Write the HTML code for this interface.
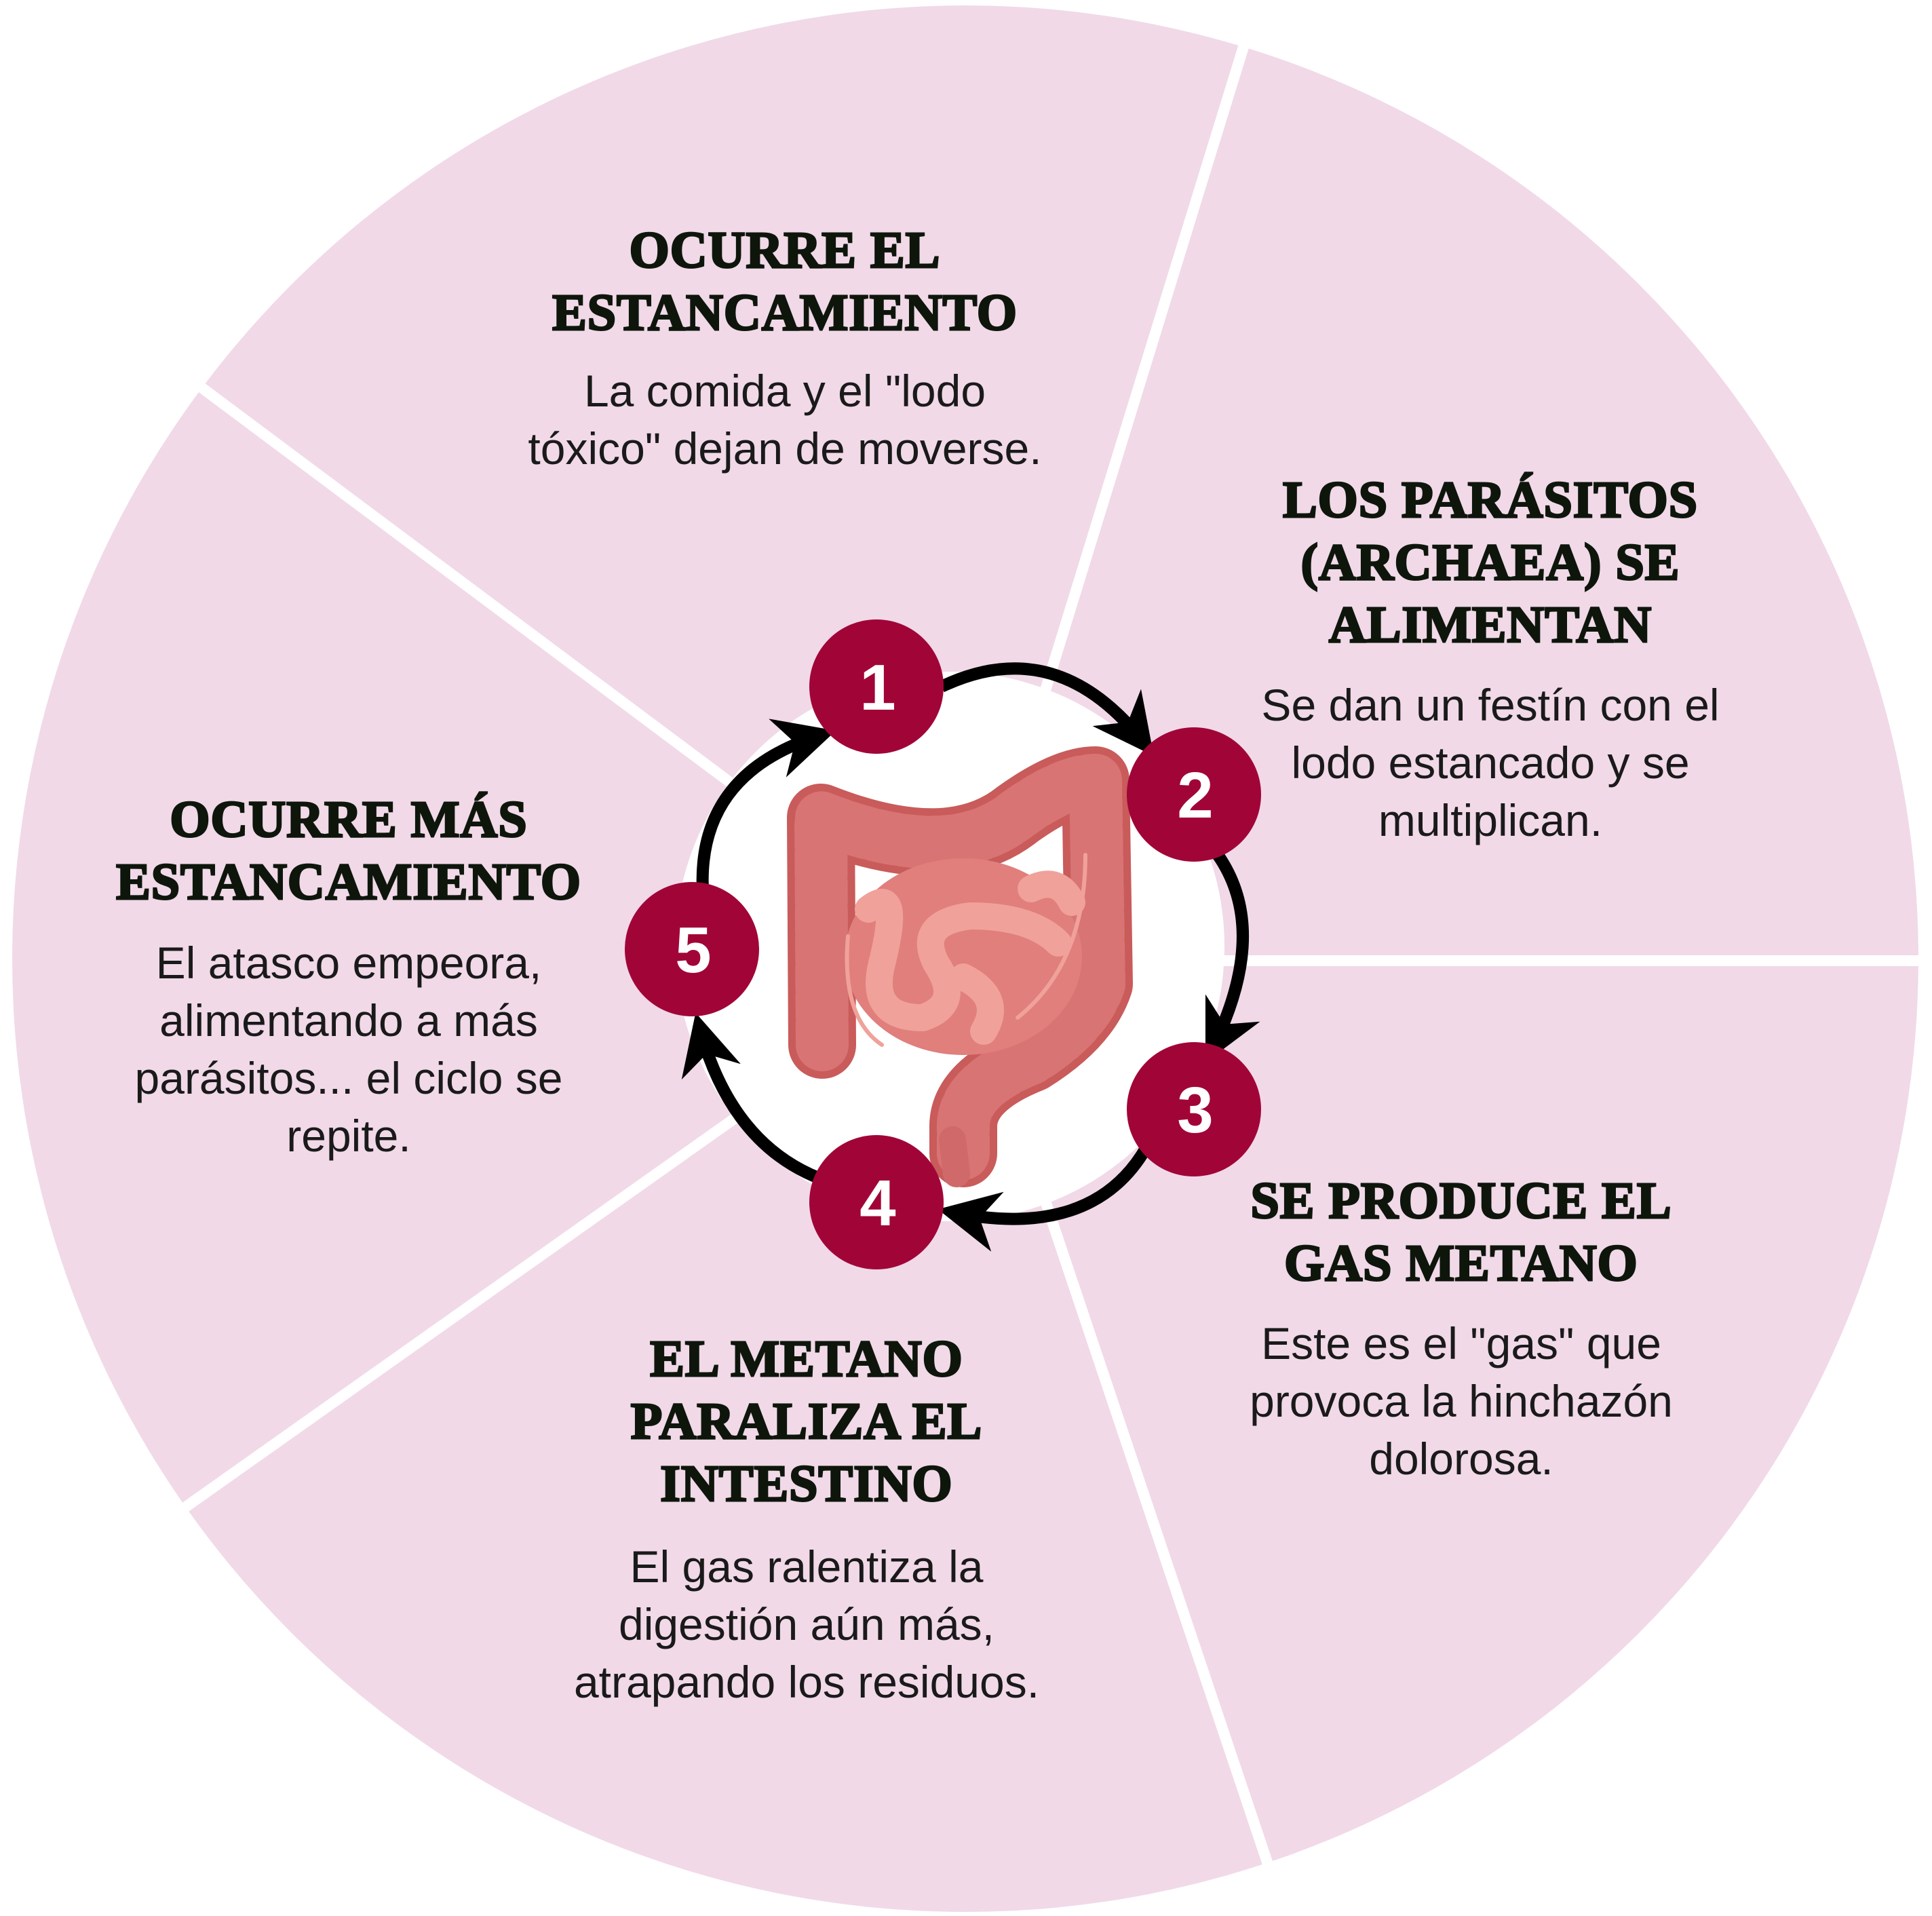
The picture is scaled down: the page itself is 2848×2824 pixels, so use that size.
<!DOCTYPE html>
<html><head><meta charset="utf-8"><style>
html,body{margin:0;padding:0;background:#fff;}
body{width:2848px;height:2824px;position:relative;overflow:hidden;}
svg{position:absolute;left:0;top:0;}
.h{position:absolute;width:900px;text-align:center;font-family:"Liberation Serif",serif;font-weight:bold;font-size:76px;line-height:92px;color:#0e160c;letter-spacing:1px;-webkit-text-stroke:3px #0e160c;}
.b{position:absolute;width:900px;text-align:center;font-family:"Liberation Sans",sans-serif;font-size:66px;line-height:85px;color:#1a1a1a;}
.n{font-family:"Liberation Sans",sans-serif;font-weight:bold;font-size:96px;fill:#fff;}
</style></head><body>
<svg width="2848" height="2824" viewBox="0 0 2848 2824">
<defs>
<marker id="ah" viewBox="0 0 10 10" refX="8" refY="5" markerWidth="5" markerHeight="5" orient="auto" markerUnits="strokeWidth">
<path d="M0,0 L10,5 L0,10 L3,5 Z" fill="#000"/>
</marker>
</defs>
<circle cx="1423" cy="1413" r="1405" fill="#f1d9e8"/>
<g stroke="#fff" stroke-width="16">
<line x1="1420" y1="1410" x2="1850" y2="14"/>
<line x1="1420" y1="1416" x2="2848" y2="1416"/>
<line x1="1420" y1="1410" x2="1890" y2="2810"/>
<line x1="1420" y1="1410" x2="230" y2="2252"/>
<line x1="1420" y1="1410" x2="250" y2="536"/>
</g>
<circle cx="1400" cy="1395" r="405" fill="#fff"/>
<g fill="none" stroke="#000" stroke-width="18" marker-end="url(#ah)">
<path d="M1388,1012 Q1560,930 1690,1100"/>
<path d="M1783,1244 Q1880,1360 1785,1550"/>
<path d="M1690,1691 Q1610,1830 1400,1786"/>
<path d="M1232,1745 Q1080,1700 1030,1510"/>
<path d="M1037,1327 Q1020,1140 1215,1082"/>
</g>
<g stroke-linecap="round" stroke-linejoin="round" fill="none">
<path d="M1212,1540 L1210,1205 Q1400,1280 1500,1200 Q1570,1150 1615,1150 L1620,1450 Q1600,1510 1520,1560 Q1420,1600 1420,1660 L1420,1700" stroke="#c95b5b" stroke-width="100"/>
<path d="M1212,1540 L1210,1205 Q1400,1280 1500,1200 Q1570,1150 1615,1150 L1620,1450 Q1600,1510 1520,1560 Q1420,1600 1420,1660 L1420,1700" stroke="#d97474" stroke-width="78" stroke-dasharray="30 12"/>
<path d="M1404,1680 L1410,1730" stroke="#d06a6a" stroke-width="40"/>
<ellipse cx="1420" cy="1410" rx="175" ry="145" fill="#e07f7c" stroke="none"/>
<path d="M1280,1340 Q1330,1300 1300,1420 Q1280,1500 1360,1500 Q1420,1480 1380,1420 Q1350,1360 1430,1350 Q1520,1350 1560,1390 M1420,1440 Q1480,1470 1450,1520 M1520,1310 Q1560,1290 1580,1330" stroke="#f0a19a" stroke-width="40"/>
<path d="M1250,1380 Q1240,1500 1300,1540 M1600,1260 Q1600,1420 1500,1500" stroke="#f0a19a" stroke-width="6"/>
</g>
<g fill="#a10537">
<circle cx="1292" cy="1012" r="99"/>
<circle cx="1760" cy="1171" r="99"/>
<circle cx="1760" cy="1635" r="99"/>
<circle cx="1292" cy="1772" r="99"/>
<circle cx="1020" cy="1399" r="99"/>
</g>
<g class="n" text-anchor="middle">
<text x="1294" y="1046">1</text>
<text x="1762" y="1205">2</text>
<text x="1762" y="1669">3</text>
<text x="1294" y="1806">4</text>
<text x="1022" y="1433">5</text>
</g>
</svg>
<div class="h" style="left:707px;top:323px">OCURRE EL<br>ESTANCAMIENTO</div>
<div class="b" style="left:707px;top:534px">La comida y el "lodo<br>tóxico" dejan de moverse.</div>

<div class="h" style="left:1747px;top:691px">LOS PARÁSITOS<br>(ARCHAEA) SE<br>ALIMENTAN</div>
<div class="b" style="left:1747px;top:997px">Se dan un festín con el<br>lodo estancado y se<br>multiplican.</div>

<div class="h" style="left:1704px;top:1724px">SE PRODUCE EL<br>GAS METANO</div>
<div class="b" style="left:1704px;top:1938px">Este es el "gas" que<br>provoca la hinchazón<br>dolorosa.</div>

<div class="h" style="left:739px;top:1957px">EL METANO<br>PARALIZA EL<br>INTESTINO</div>
<div class="b" style="left:739px;top:2267px">El gas ralentiza la<br>digestión aún más,<br>atrapando los residuos.</div>

<div class="h" style="left:64px;top:1162px">OCURRE MÁS<br>ESTANCAMIENTO</div>
<div class="b" style="left:64px;top:1377px">El atasco empeora,<br>alimentando a más<br>parásitos... el ciclo se<br>repite.</div>
</body></html>
